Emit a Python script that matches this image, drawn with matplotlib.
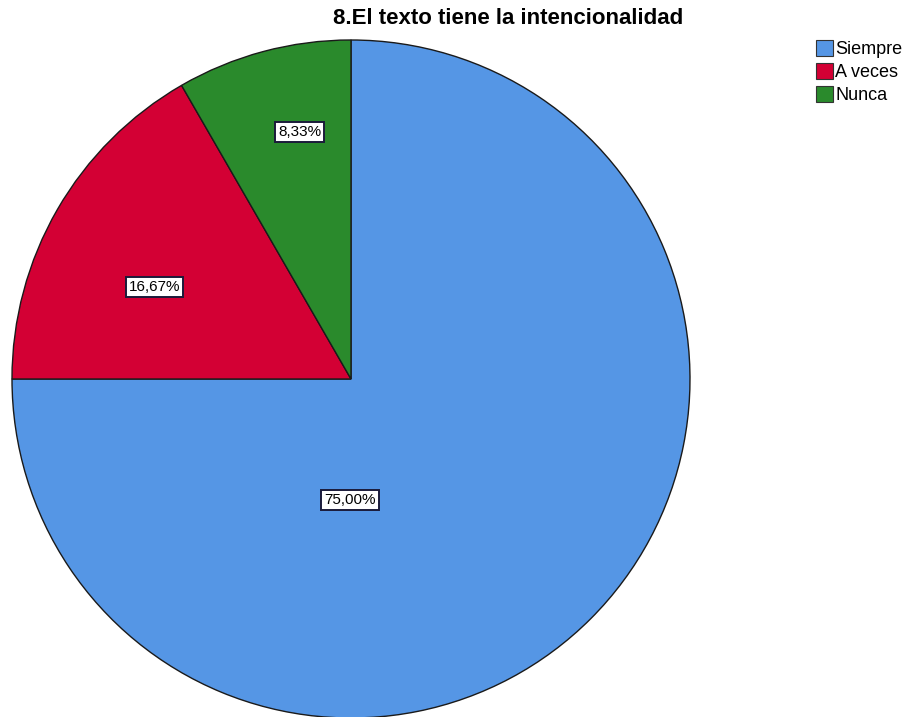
import matplotlib
matplotlib.use("Agg")
import matplotlib.pyplot as plt
import numpy as np
from matplotlib.patches import Patch

categories = ["Siempre", "A veces", "Nunca"]
percentages = [75.00, 16.67, 8.33]
colors = ["#5596E5", "#D30034", "#2A8A2C"]
title = "8.El texto tiene la intencionalidad"

# label placement inside each wedge: (angle in degrees, fraction of radius)
label_layout = [(-90.5, 0.357), (155.0, 0.64), (101.7, 0.745)]

plt.rcParams["font.family"] = ["Liberation Sans", "DejaVu Sans"]

W, H = 916, 717
fig = plt.figure(figsize=(W / 100, H / 100), dpi=100)
ax = fig.add_axes([0, 0, 1, 1])

center = (351, H - 379)
radius = 339

ax.pie(percentages, colors=colors, startangle=90, counterclock=False,
       center=center, radius=radius, frame=True,
       wedgeprops=dict(edgecolor="#1a1a1a", linewidth=1.0))
ax.set_xlim(0, W)
ax.set_ylim(0, H)
ax.axis("off")

for pct, (ang, frac) in zip(percentages, label_layout):
    a = np.deg2rad(ang)
    x = center[0] + frac * radius * np.cos(a)
    y = center[1] + frac * radius * np.sin(a)
    ax.text(x, y, f"{pct:.2f}%".replace(".", ","), ha="center", va="center",
            fontsize=11, color="black",
            bbox=dict(boxstyle="square,pad=0.2", facecolor="white",
                      edgecolor="#1a1a3a", linewidth=1.4))

fig.text(508 / W, 1 - 19 / H, title, ha="center", va="center",
         fontsize=16, fontweight="bold")

handles = [Patch(facecolor=c, edgecolor="#333333", linewidth=0.8) for c in colors]
fig.legend(handles, categories, loc="upper left", bbox_to_anchor=(816 / W, 1 - 40 / H),
           frameon=False, fontsize=13, handlelength=0.95, handleheight=1.0,
           handletextpad=0.12, labelspacing=0.25, borderaxespad=0, borderpad=0)

fig.savefig("out.png", dpi=100)
